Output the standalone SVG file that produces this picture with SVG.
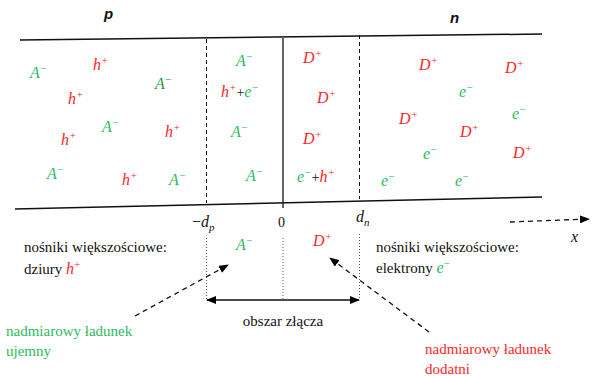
<svg xmlns="http://www.w3.org/2000/svg" width="592" height="376" viewBox="0 0 592 376">
  <defs>
    <marker id="tri" markerWidth="10" markerHeight="8" refX="9" refY="4" orient="auto-start-reverse" markerUnits="userSpaceOnUse">
      <path d="M0,0 L10,4 L0,8 Z" fill="#000"/>
    </marker>
  </defs>
  <style>
    .m { font-style: italic; font-size: 16px; }
    .t { font-size: 15px; fill: #111; }
    .lbl { font-style: italic; font-weight: bold; font-size: 15px; fill: #111; }
    .g { fill: #2dbb5e; }
    .dg { fill: #1f9a3c; }
    .r { fill: #ff2626; }
    .k { fill: #222; }
    .sup { font-size: 11px; }
    .edge { stroke: #111; stroke-width: 1.5; fill: none; }
    .dash { stroke: #111; stroke-width: 1; stroke-dasharray: 4 3; fill: none; }
    .dot { stroke: #555; stroke-width: 1; stroke-dasharray: 1 2; fill: none; }
    .ldash { stroke: #111; stroke-width: 1.3; stroke-dasharray: 5 4; fill: none; }
  </style>

  <!-- region labels -->
  <g id="label-p" font-family="Liberation Sans, Arial, sans-serif"><text class="lbl" x="104" y="19">p</text></g>
  <g id="label-n" font-family="Liberation Sans, Arial, sans-serif"><text class="lbl" x="450" y="23">n</text></g>

  <!-- semiconductor body and junction boundaries -->
  <g id="body">
    <line class="edge" x1="20" y1="40" x2="542" y2="34"/>
    <line class="edge" x1="15" y1="209" x2="542" y2="197"/>
    <line class="dash" x1="206.5" y1="39" x2="206.5" y2="203"/>
    <line x1="283" y1="38" x2="283" y2="208" stroke="#111" stroke-width="1.3"/>
    <line class="dash" x1="359.5" y1="35" x2="359.5" y2="199"/>
  </g>

  <g font-family="Liberation Serif, Times New Roman, DejaVu Serif, serif">
  <!-- p side carriers -->
  <g id="p-carriers" class="m">
    <text class="g" x="30" y="78">A<tspan class="sup" dy="-6">−</tspan></text>
    <text class="r" x="93" y="70">h<tspan class="sup" dy="-6">+</tspan></text>
    <text class="dg" x="155" y="89">A<tspan class="sup" dy="-6">−</tspan></text>
    <text class="r" x="68" y="104">h<tspan class="sup" dy="-6">+</tspan></text>
    <text class="g" x="102" y="132">A<tspan class="sup" dy="-6">−</tspan></text>
    <text class="r" x="165" y="137">h<tspan class="sup" dy="-6">+</tspan></text>
    <text class="r" x="61" y="145">h<tspan class="sup" dy="-6">+</tspan></text>
    <text class="g" x="47" y="179">A<tspan class="sup" dy="-6">−</tspan></text>
    <text class="r" x="122" y="185">h<tspan class="sup" dy="-6">+</tspan></text>
    <text class="g" x="169" y="185">A<tspan class="sup" dy="-6">−</tspan></text>
  </g>

  <!-- depletion region, p part -->
  <g id="depletion-p" class="m">
    <text class="g" x="236" y="66">A<tspan class="sup" dy="-6">−</tspan></text>
    <text class="r" x="221" y="97">h<tspan class="sup" dy="-6">+</tspan><tspan class="k" dy="6" font-style="normal" font-size="14">+</tspan><tspan class="g">e</tspan><tspan class="g sup" dy="-6">−</tspan></text>
    <text class="g" x="231" y="137">A<tspan class="sup" dy="-6">−</tspan></text>
    <text class="g" x="246" y="181">A<tspan class="sup" dy="-6">−</tspan></text>
  </g>

  <!-- depletion region, n part -->
  <g id="depletion-n" class="m">
    <text class="r" x="303" y="63">D<tspan class="sup" dy="-6">+</tspan></text>
    <text class="r" x="317" y="103">D<tspan class="sup" dy="-6">+</tspan></text>
    <text class="r" x="303" y="144">D<tspan class="sup" dy="-6">+</tspan></text>
    <text class="g" x="297" y="182">e<tspan class="sup" dy="-6">−</tspan><tspan class="k" dy="6" font-style="normal" font-size="14">+</tspan><tspan class="r">h</tspan><tspan class="r sup" dy="-6">+</tspan></text>
  </g>

  <!-- n side carriers -->
  <g id="n-carriers" class="m">
    <text class="r" x="419" y="70">D<tspan class="sup" dy="-6">+</tspan></text>
    <text class="r" x="505" y="73">D<tspan class="sup" dy="-6">+</tspan></text>
    <text class="g" x="459" y="97">e<tspan class="sup" dy="-6">−</tspan></text>
    <text class="g" x="512" y="119">e<tspan class="sup" dy="-6">−</tspan></text>
    <text class="r" x="399" y="124">D<tspan class="sup" dy="-6">+</tspan></text>
    <text class="r" x="460" y="137">D<tspan class="sup" dy="-6">+</tspan></text>
    <text class="g" x="423" y="159">e<tspan class="sup" dy="-6">−</tspan></text>
    <text class="r" x="513" y="158">D<tspan class="sup" dy="-6">+</tspan></text>
    <text class="g" x="381" y="186">e<tspan class="sup" dy="-6">−</tspan></text>
    <text class="g" x="455" y="186">e<tspan class="sup" dy="-6">−</tspan></text>
  </g>

  <!-- axis ticks -->
  <g id="axis-labels" class="m" fill="#111">
    <text x="192" y="227"><tspan font-style="normal">−</tspan>d<tspan font-size="11" dy="4">p</tspan></text>
    <text x="278" y="227" font-style="normal" font-size="14">0</text>
    <text x="356" y="222">d<tspan font-size="11" dy="4">n</tspan></text>
    <text x="571" y="242">x</text>
  </g>

  <!-- net charge in depletion region -->
  <g id="net-charge" class="m">
    <text class="g" x="236" y="250">A<tspan class="sup" dy="-6">−</tspan></text>
    <text class="r" x="313" y="246">D<tspan class="sup" dy="-6">+</tspan></text>
  </g>

  <!-- majority carrier notes -->
  <g id="note-p">
    <text class="t" x="24" y="252">nośniki większościowe:</text>
    <text class="t" x="24" y="274">dziury <tspan class="r" font-style="italic" font-size="16">h</tspan><tspan class="r" font-size="11" dy="-6">+</tspan></text>
  </g>
  <g id="note-n">
    <text class="t" x="376" y="252">nośniki większościowe:</text>
    <text class="t" x="376" y="273">elektrony <tspan class="g" font-style="italic" font-size="16">e</tspan><tspan class="g" font-size="11" dy="-6">−</tspan></text>
  </g>

  <!-- excess charge notes -->
  <g id="note-negative">
    <text class="t g" x="6" y="336">nadmiarowy ładunek</text>
    <text class="t g" x="6" y="356">ujemny</text>
  </g>
  <g id="note-positive">
    <text class="t r" x="425" y="354">nadmiarowy ładunek</text>
    <text class="t r" x="425" y="374">dodatni</text>
  </g>

  <!-- junction width -->
  <g id="junction-width">
    <text class="t" x="283" y="326" text-anchor="middle">obszar złącza</text>
  </g>
  </g>

  <!-- connectors -->
  <g id="connectors">
    <line class="dot" x1="206.5" y1="238" x2="206.5" y2="300"/>
    <line class="dot" x1="283" y1="238" x2="283" y2="300"/>
    <line class="dot" x1="359.5" y1="234" x2="359.5" y2="300"/>
    <line x1="207" y1="300" x2="359" y2="300" stroke="#111" stroke-width="1.5" marker-start="url(#tri)" marker-end="url(#tri)"/>
    <line class="ldash" x1="135" y1="316" x2="228" y2="265" marker-end="url(#tri)"/>
    <line class="ldash" x1="429" y1="332" x2="330" y2="258" marker-end="url(#tri)"/>
    <line class="ldash" x1="510" y1="222" x2="589" y2="219" marker-end="url(#tri)"/>
  </g>
</svg>
